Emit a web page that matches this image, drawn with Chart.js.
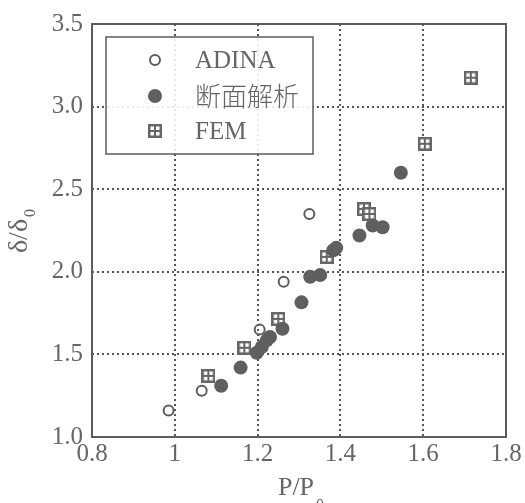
<!DOCTYPE html>
<html>
<head>
<meta charset="utf-8">
<script src="https://cdn.jsdelivr.net/npm/chart.js@4"></script>
<style>
  html, body { margin: 0; padding: 0; background: #fff; }
  #wrap { width: 525px; height: 503px; }
</style>
</head>
<body>
<div id="wrap"><canvas id="chart"></canvas></div>
<script>
// series values
const adinaX = [0.985, 1.065, 1.205, 1.263, 1.325];
const adinaY = [1.16, 1.28, 1.65, 1.94, 2.35];

const sectionX = [1.112, 1.159, 1.198, 1.21, 1.222, 1.23, 1.26, 1.306, 1.327, 1.351, 1.383, 1.39, 1.446, 1.478, 1.502, 1.546];
const sectionY = [1.31, 1.42, 1.51, 1.545, 1.585, 1.605, 1.655, 1.815, 1.97, 1.98, 2.13, 2.145, 2.22, 2.28, 2.27, 2.60];

const femX = [1.081, 1.168, 1.25, 1.367, 1.457, 1.47, 1.604, 1.715];
const femY = [1.37, 1.54, 1.715, 2.09, 2.38, 2.35, 2.775, 3.175];

const seriesNames = ['ADINA', '断面解析', 'FEM'];
const xTicks = [0.8, 1, 1.2, 1.4, 1.6, 1.8];
const yTicks = [1.0, 1.5, 2.0, 2.5, 3.0, 3.5];

const INK = '#5c5c5c';
const TXT = '#666';

function toPoints(xs, ys) {
  return xs.map(function(x, i) { return { x: x, y: ys[i] }; });
}

// square marker with four white cells
function femMarker() {
  const c = document.createElement('canvas');
  c.width = 14; c.height = 14;
  const g = c.getContext('2d');
  g.fillStyle = '#666';
  g.fillRect(0, 0, 14, 14);
  g.fillStyle = '#fff';
  g.fillRect(2.5, 2.5, 3.5, 3.5);
  g.fillRect(8, 2.5, 3.5, 3.5);
  g.fillRect(2.5, 8, 3.5, 3.5);
  g.fillRect(8, 8, 3.5, 3.5);
  return c;
}
const femImg = femMarker();

const framePlugin = {
  id: 'frame',
  afterDatasetsDraw(chart) {
    const ctx = chart.ctx, a = chart.chartArea;
    ctx.save();
    ctx.strokeStyle = INK;
    ctx.lineWidth = 2;
    ctx.strokeRect(a.left, a.top, a.right - a.left, a.bottom - a.top);

    // legend box
    const bx = 106, by = 37, bw = 207, bh = 117;
    ctx.fillStyle = 'rgba(255,255,255,0.88)';
    ctx.fillRect(bx, by, bw, bh);
    ctx.lineWidth = 1.5;
    ctx.strokeRect(bx, by, bw, bh);

    const mx = 155, tx = 195, rows = [60, 96, 131];
    ctx.strokeStyle = INK;
    ctx.lineWidth = 2;
    ctx.beginPath();
    ctx.arc(mx, rows[0], 5, 0, Math.PI * 2);
    ctx.stroke();
    ctx.fillStyle = '#5f5f5f';
    ctx.beginPath();
    ctx.arc(mx, rows[1], 7, 0, Math.PI * 2);
    ctx.fill();
    ctx.drawImage(femImg, mx - 7, rows[2] - 7);

    ctx.fillStyle = TXT;
    ctx.textBaseline = 'middle';
    ctx.textAlign = 'left';
    ctx.font = '25px "Liberation Serif", serif';
    ctx.fillText(seriesNames[0], tx, rows[0] + 1);
    ctx.font = '300 26px "Noto Sans CJK SC", sans-serif';
    ctx.fillText(seriesNames[1], tx, rows[1]);
    ctx.font = '25px "Liberation Serif", serif';
    ctx.fillText(seriesNames[2], tx, rows[2] + 1);

    // axis titles with subscripts
    ctx.font = '26px "Liberation Serif", serif';
    ctx.textBaseline = 'alphabetic';
    const xt = 'P/P';
    const xw = ctx.measureText(xt).width;
    const xc = 296;
    ctx.fillText(xt, xc - xw / 2, 495);
    ctx.font = '16px "Liberation Serif", serif';
    ctx.fillText('0', xc + xw / 2 + 2, 510);

    ctx.translate(27, 236);
    ctx.rotate(-Math.PI / 2);
    ctx.font = '28px "Liberation Serif", serif';
    const yt = 'δ/δ';
    const yw = ctx.measureText(yt).width;
    ctx.fillText(yt, -yw / 2, 0);
    ctx.font = '16px "Liberation Serif", serif';
    ctx.fillText('0', yw / 2 + 2, 8);
    ctx.restore();
  }
};

const grid = {
  color: '#555',
  lineWidth: 2,
  drawTicks: false
};

new Chart(document.getElementById('chart'), {
  type: 'scatter',
  data: {
    datasets: [
      {
        label: seriesNames[0],
        data: toPoints(adinaX, adinaY),
        pointStyle: 'circle',
        pointRadius: 5,
        borderColor: INK,
        borderWidth: 2,
        backgroundColor: 'rgba(255,255,255,0)',
        order: 1
      },
      {
        label: seriesNames[1],
        data: toPoints(sectionX, sectionY),
        pointStyle: 'circle',
        pointRadius: 7,
        borderWidth: 0,
        backgroundColor: '#5f5f5f',
        order: 2
      },
      {
        label: seriesNames[2],
        data: toPoints(femX, femY),
        pointStyle: femImg,
        order: 3
      }
    ]
  },
  plugins: [framePlugin],
  options: {
    responsive: true,
    maintainAspectRatio: false,
    animation: false,
    layout: { padding: { top: 21, right: 19, left: 0, bottom: 0 } },
    plugins: {
      legend: { display: false },
      tooltip: { enabled: false }
    },
    scales: {
      x: {
        type: 'linear',
        min: 0.8,
        max: 1.8,
        afterBuildTicks: function(s) { s.ticks = xTicks.map(function(v) { return { value: v }; }); },
        afterFit: function(s) { s.height = 66; },
        grid: grid,
        border: { display: false, dash: [2, 3] },
        ticks: {
          color: TXT,
          padding: 2,
          font: { family: '"Liberation Serif", serif', size: 25 },
          callback: function(v) { return v === 1 ? '1' : (Math.round(v * 10) / 10).toFixed(1); }
        }
      },
      y: {
        type: 'linear',
        min: 1,
        max: 3.5,
        afterBuildTicks: function(s) { s.ticks = yTicks.map(function(v) { return { value: v }; }); },
        afterFit: function(s) { s.width = 92; },
        grid: grid,
        border: { display: false, dash: [2, 3] },
        ticks: {
          color: TXT,
          padding: 9,
          font: { family: '"Liberation Serif", serif', size: 25 },
          callback: function(v) { return (Math.round(v * 10) / 10).toFixed(1); }
        }
      }
    }
  }
});
</script>
</body>
</html>
